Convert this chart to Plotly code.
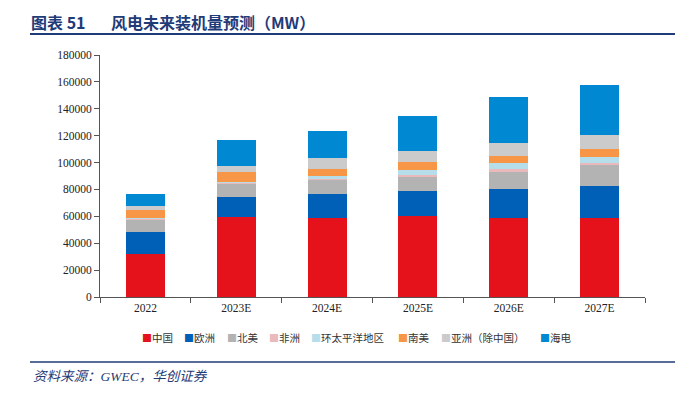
import plotly.graph_objects as go

years = ["2022", "2023E", "2024E", "2025E", "2026E", "2027E"]
series_names = ["中国", "欧洲", "北美", "非洲", "环太平洋地区", "南美", "亚洲（除中国）", "海电"]
china = [32000, 59600, 59100, 59900, 59100, 59100]
europe = [16500, 14700, 17400, 19100, 21300, 23600]
north_america = [9200, 10400, 10700, 10400, 13300, 15600]
africa = [500, 600, 800, 1400, 1300, 1500]
asia_pacific = [300, 600, 1900, 3800, 4600, 4600]
south_america = [6500, 6900, 5500, 6100, 5000, 5500]
asia_ex_china = [2600, 5000, 8200, 8000, 10200, 10700]
offshore = [9300, 19000, 19800, 26300, 33800, 36900]

series_values = [china, europe, north_america, africa, asia_pacific,
                 south_america, asia_ex_china, offshore]
colors = ["#E5121C", "#005FB7", "#B3B3B3", "#E9B9BC", "#B5DEEA",
          "#F79646", "#CBCBCB", "#0089D2"]

fig = go.Figure()
for name, vals, c in zip(series_names, series_values, colors):
    fig.add_trace(go.Bar(
        x=years, y=vals, name=name,
        marker=dict(color=c, line=dict(width=0)),
        width=0.43,
    ))

navy = "#1F3B78"
serif = "Liberation Serif, Times New Roman, serif"
cjk = "Noto Sans CJK SC"

# page body adds an 8px offset; figure sized to fill the rest of the window
OFF = 8
W, H = 683 - OFF, 398 - OFF
PL, PR, PT, PB = 100, 645, 55, 297  # plot area in window pixels
L, T = PL - OFF, PT - OFF
R, B = W - L - (PR - PL), H - T - (PB - PT)


def px(xw):
    return (xw - PL) / (PR - PL)


def py(yw):
    return (PB - yw) / (PB - PT)


fig.update_layout(
    barmode="stack",
    width=W, height=H,
    margin=dict(l=L, r=R, t=T, b=B, autoexpand=False),
    paper_bgcolor="white", plot_bgcolor="white",
    showlegend=False,
    font=dict(family=serif, size=11.5, color="#222222"),
)
fig.update_xaxes(
    type="category", showline=True, linecolor="#555555", linewidth=1,
    ticks="outside", tickson="boundaries", ticklen=5, tickcolor="#555555",
    tickfont=dict(family=serif, size=11.5, color="#222222"),
    showgrid=False, zeroline=False,
)
fig.update_yaxes(
    range=[0, 180000], dtick=20000, tickformat="d",
    showline=True, linecolor="#555555", linewidth=1,
    ticks="outside", ticklen=5, tickcolor="#555555",
    tickfont=dict(family=serif, size=11.5, color="#222222"),
    showgrid=False, zeroline=False,
)

# legend drawn as text
legend_x = [141, 183, 226, 268, 310, 397, 440, 539]
for name, c, lx in zip(series_names, colors, legend_x):
    fig.add_annotation(text="■", xref="paper", yref="paper", x=px(lx - 1), y=py(337),
                       xanchor="left", yanchor="middle", showarrow=False,
                       font=dict(family=cjk, size=10, color=c))
    fig.add_annotation(text=name, xref="paper", yref="paper", x=px(lx + 9), y=py(337),
                       xanchor="left", yanchor="middle", showarrow=False,
                       font=dict(family=cjk, size=10.5, color="#333333"))

# title, rules and source
fig.add_annotation(text="<b>图表 51       风电未来装机量预测（MW）</b>",
                   xref="paper", yref="paper", x=px(30), y=py(8.5),
                   xanchor="left", yanchor="top", showarrow=False, borderpad=0,
                   font=dict(family=cjk, size=16, color=navy))
fig.add_shape(type="line", xref="paper", yref="paper",
              x0=px(30), x1=px(690), y0=py(34), y1=py(34),
              line=dict(color=navy, width=2))
fig.add_shape(type="line", xref="paper", yref="paper",
              x0=px(30), x1=px(690), y0=py(362), y1=py(362),
              line=dict(color=navy, width=1.5))
fig.add_annotation(text="<i>资料来源：GWEC，华创证券</i>",
                   xref="paper", yref="paper", x=px(31), y=py(376),
                   xanchor="left", yanchor="middle", showarrow=False,
                   font=dict(family=serif + ", " + cjk, size=13.5, color=navy))

fig.write_html("out.html")
